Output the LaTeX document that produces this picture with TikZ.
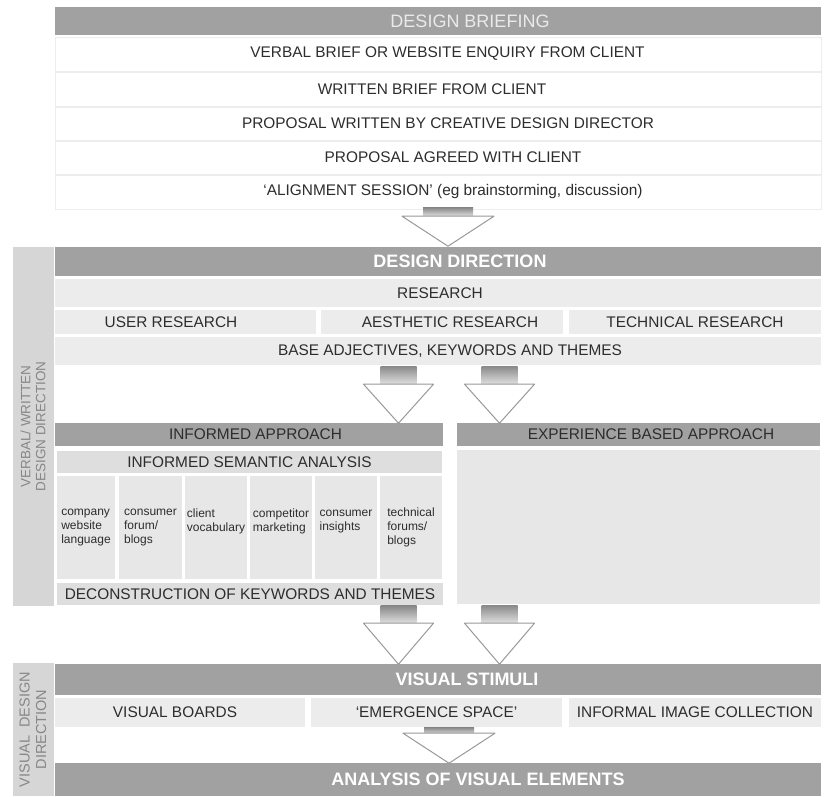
\documentclass[tikz,border=0pt]{standalone}
\usepackage{fontspec}
\setmainfont{Liberation Sans}
\usepackage{tikz}
\usepackage{xcolor}
\definecolor{barGray}{RGB}{161,161,161}
\definecolor{rowGray}{RGB}{236,236,236}
\definecolor{cellGray}{RGB}{231,231,231}
\definecolor{semGray}{RGB}{222,222,222}
\definecolor{sideGray}{RGB}{214,214,214}
\definecolor{sideText}{RGB}{135,135,135}
\definecolor{inkGray}{RGB}{45,45,45}
\definecolor{briefText}{RGB}{234,234,234}

\begin{document}
\begin{tikzpicture}[x=1pt,y=-1pt,
    box/.style={rectangle,inner sep=0pt,text=inkGray,font=\fontsize{15.4}{17}\selectfont},
    bar/.style={box,fill=barGray,text=white,minimum width=766pt,font=\fontsize{18}{20}\selectfont\bfseries},
    toprow/.style={box,fill=white,draw=black!7,minimum width=766pt},
    row/.style={box,fill=rowGray},
    subbar/.style={box,fill=barGray,minimum height=23pt},
    sem/.style={box,fill=semGray},
    cell/.style={box,fill=cellGray,align=left,minimum height=103pt,font=\fontsize{12}{14}\selectfont},
    side/.style={box,fill=sideGray,text=sideText,align=center,rotate=90,minimum height=41pt},
    shaft/.style={top color=black!48,bottom color=black!12},
    head/.style={fill=white,draw=black!40,line width=1pt,line join=round}]
    \useasboundingbox (0,0) rectangle (827,796);
    \fill[white] (0,0) rectangle (827,796);

    % Design briefing
    \node[bar,minimum height=28pt,text=briefText,font=\fontsize{18}{20}\selectfont] (brief) at (438,21) {\hspace*{64pt}DESIGN BRIEFING};
    \node[toprow,minimum height=34pt] (verbal) at (438,54) {\hspace*{19pt}VERBAL BRIEF OR WEBSITE ENQUIRY FROM CLIENT};
    \node[toprow,minimum height=34pt] (written) at (438,89) {WRITTEN BRIEF FROM CLIENT\hspace*{12pt}};
    \node[toprow,minimum height=33pt] (proposal) at (438,123.5) {\hspace*{20pt}PROPOSAL WRITTEN BY CREATIVE DESIGN DIRECTOR};
    \node[toprow,minimum height=33pt] (agreed) at (438,157.5) {\hspace*{30pt}PROPOSAL AGREED WITH CLIENT};
    \node[toprow,minimum height=34pt] (align) at (438,192) {\hspace*{30pt}`ALIGNMENT SESSION' (eg brainstorming, discussion)};

    % Verbal / written design direction
    \node[side,minimum width=359pt,font=\fontsize{13.5}{15}\selectfont] (verbside) at (33,426.5) {VERBAL/ WRITTEN\\DESIGN DIRECTION};
    \node[bar,minimum height=29pt] (dir) at (438,261.5) {\hspace*{44pt}DESIGN DIRECTION};
    \node[row,minimum width=766pt,minimum height=28pt] (research) at (438,293) {\hspace*{4pt}RESEARCH};
    \node[row,minimum width=261pt,minimum height=24pt] (user) at (185.5,322) {USER RESEARCH\hspace*{29pt}};
    \node[row,minimum width=242pt,minimum height=24pt] (aesthetic) at (442,322) {\hspace*{16pt}AESTHETIC RESEARCH};
    \node[row,minimum width=252pt,minimum height=24pt] (technical) at (695,322) {TECHNICAL RESEARCH};
    \node[row,minimum width=766pt,minimum height=28pt] (base) at (438,351) {\hspace*{24pt}BASE ADJECTIVES, KEYWORDS AND THEMES};

    % Informed approach
    \node[subbar,minimum width=388pt] (informed) at (249,434.5) {\hspace*{13pt}INFORMED APPROACH};
    \node[sem,minimum width=385pt,minimum height=22pt] (semantic) at (249.5,462) {INFORMED SEMANTIC ANALYSIS};
    \node[cell,minimum width=58pt] (company) at (86,527.5) {company\\website\\language};
    \node[cell,minimum width=63pt] (forum) at (150.5,527.5) {consumer\\forum/\\blogs};
    \node[cell,minimum width=62pt] (vocab) at (216,527.5) {client\\vocabulary\\\phantom{x}};
    \node[cell,minimum width=62pt] (competitor) at (281,527.5) {competitor\\marketing\\\phantom{x}};
    \node[cell,minimum width=62pt] (insights) at (346,527.5) {consumer\\insights\\\phantom{x}};
    \node[cell,minimum width=62pt] (techforum) at (411,527.5) {technical\\forums/\\blogs};
    \node[sem,minimum width=386pt,minimum height=22pt] (decon) at (250,594) {DECONSTRUCTION OF KEYWORDS AND THEMES};

    % Experience based approach
    \node[subbar,minimum width=363pt] (experience) at (638.5,434.5) {\hspace*{25pt}EXPERIENCE BASED APPROACH};
    \node[box,fill=cellGray,minimum width=363pt,minimum height=154pt] (exppanel) at (638.5,527) {};

    % Visual design direction
    \node[side,minimum width=133pt,font=\fontsize{14.5}{16.5}\selectfont] (visside) at (33,729.5) {VISUAL\ \ DESIGN\\DIRECTION};
    \node[bar,minimum height=31pt] (stimuli) at (438,679.5) {\hspace*{58pt}VISUAL STIMULI};
    \node[row,minimum width=250pt,minimum height=29pt] (boards) at (180,712.5) {VISUAL BOARDS\hspace*{10pt}};
    \node[row,minimum width=251pt,minimum height=29pt] (emergence) at (436.5,712.5) {`EMERGENCE SPACE'};
    \node[row,minimum width=252pt,minimum height=29pt] (informal) at (695,712.5) {INFORMAL IMAGE COLLECTION};
    \node[bar,minimum height=33pt] (analysis) at (438,779.5) {\hspace*{80pt}ANALYSIS OF VISUAL ELEMENTS};

    % Block arrows
    \coordinate (a1) at ([xshift=10pt]align.south);
    \coordinate (a2) at ([xshift=-39.5pt]base.south);
    \coordinate (a3) at ([xshift=61.5pt]base.south);
    \coordinate (a4) at ([xshift=148.5pt]decon.south);
    \coordinate (a5) at ([xshift=-139pt]exppanel.south);
    \coordinate (a6) at ([xshift=12.5pt]emergence.south);

    \shade[shaft] (a1) ++(-25,-2) rectangle ++(50,9);
    \draw[head] (a1) ++(-46,7) -- ++(92,0) -- ++(-46,30) -- cycle;
    \shade[shaft] (a2) ++(-18,1) rectangle ++(36,18);
    \draw[head] (a2) ++(-35,19) -- ++(70,0) -- ++(-35,39) -- cycle;
    \shade[shaft] (a3) ++(-18,1) rectangle ++(36,18);
    \draw[head] (a3) ++(-35,19) -- ++(70,0) -- ++(-35,39) -- cycle;
    \shade[shaft] (a4) ++(-18,0) rectangle ++(36,18);
    \draw[head] (a4) ++(-35,18) -- ++(70,0) -- ++(-35,41) -- cycle;
    \shade[shaft] (a5) ++(-18,1) rectangle ++(36,18);
    \draw[head] (a5) ++(-35,19) -- ++(70,0) -- ++(-35,41) -- cycle;
    \shade[shaft] (a6) ++(-25,0) rectangle ++(50,7);
    \draw[head] (a6) ++(-46,6) -- ++(92,0) -- ++(-46,30) -- cycle;
\end{tikzpicture}
\end{document}
